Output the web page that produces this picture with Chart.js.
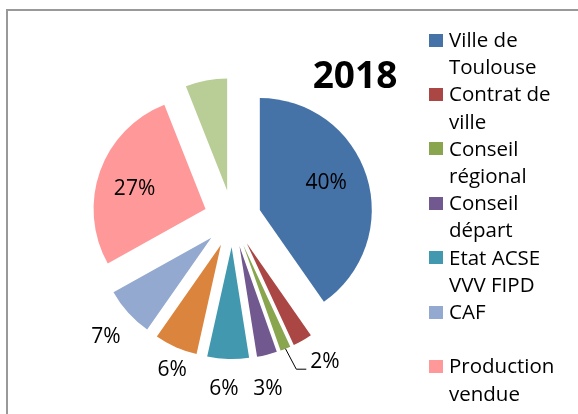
<!DOCTYPE html>
<html lang="fr">
<head>
<meta charset="utf-8">
<title>2018</title>
<script src="https://cdn.jsdelivr.net/npm/chart.js@4.4.1/dist/chart.umd.min.js"></script>
<style>
  html, body { margin: 0; padding: 0; background: #fff; width: 578px; height: 414px; overflow: hidden; }
  #cadre { position: absolute; left: 6px; top: 9px; width: 800px; height: 800px; border: 2px solid #999; }
  #graphe { position: absolute; left: 0; top: 0; }
  #titre { position: absolute; left: 255px; top: 55px; width: 200px; text-align: center;
           font: bold 37px "Open Sans"; line-height: 37px; color: #000; }
  #legende { position: absolute; left: 429px; top: 26px; width: 150px;
             font: 20.5px "Open Sans"; line-height: 27.2px; color: #000; }
  .entree { display: flex; align-items: flex-start; }
  .carre { width: 14px; height: 13px; margin-top: 7.5px; margin-right: 6px; flex: none; }
  .texte { width: 118px; }
  .vide { height: 27.2px; }
</style>
</head>
<body>
<div id="cadre"></div>
<canvas id="graphe" width="578" height="414"></canvas>
<div id="titre">2018</div>
<div id="legende"></div>
<script>
// ============================================================
// DONNÉES — répartition des financements 2018 (%)
// ============================================================
const categories = ['Ville de Toulouse', 'Contrat de ville', 'Conseil régional', 'Conseil départ',
                    'Etat ACSE VVV FIPD', '', 'CAF', 'Production vendue', ''];
const parts      = [40.3, 2.8, 1.5, 2.9, 6.0, 6.2, 7.2, 27.1, 6.0];
const etiquettes = ['40%', '', '2%', '3%', '6%', '6%', '7%', '27%', ''];
const couleurs   = ['#4572A7', '#AA4643', '#89A54E', '#71588F', '#4198AF',
                    '#DB843D', '#93A9CF', '#FF9999', '#B9CD96'];
// ordre d'affichage dans la légende (l'entrée vide tombe après CAF)
const ordreLegende = [0, 1, 2, 3, 4, 6, 5, 7, 8];

// ============================================================
// MISE EN PAGE
// ============================================================
const RAYON   = 112;
const ECLATE  = 114.4;  // Chart.js déplace chaque part de offset/4
const POLICE  = '21px "Open Sans"';
// placement des étiquettes : r = distance / rayon, tour = décalage angulaire (°)
const POS_ETIQ = [
  { r: 0.645, tour: -5.9 },
  null,
  { r: 1.261, tour: -13.2, guide: true },
  { r: 1.284, tour: 2.8 },
  { r: 1.253, tour: 1.3 },
  { r: 1.186, tour: -2.2 },
  { r: 1.281, tour: -0.7 },
  { r: 0.663, tour: -2.6 },
  null,
];

// ============================================================
// LÉGENDE HTML
// ============================================================
function construireLegende() {
  const leg = document.getElementById('legende');
  ordreLegende.forEach(i => {
    const div = document.createElement('div');
    if (!categories[i]) {
      div.className = 'vide';
    } else {
      div.className = 'entree';
      div.innerHTML = `<span class="carre" style="background:${couleurs[i]}"></span>` +
                      `<span class="texte">${categories[i]}</span>`;
    }
    leg.appendChild(div);
  });
}

// ============================================================
// PLUGINS
// Chart.js grossit et rétrécit les parts éclatées ; on compense
// pour garder un rayon et des angles identiques à l'original.
// ============================================================
const partsEclatees = {
  id: 'partsEclatees',
  beforeDatasetsDraw(chart) {
    const meta = chart.getDatasetMeta(0);
    const R = meta.controller.outerRadius;
    let debut = -Math.PI / 2;
    meta.data.forEach(arc => {
      const circ = arc.circumference;
      const fix = 1 - Math.sin(Math.min(Math.PI, circ));
      const decR = (arc.options.offset / 4) * fix;
      const s = decR / Math.PI / R;
      arc.outerRadius = R - decR;
      arc.startAngle = debut - s / 2;
      arc.endAngle = debut + circ + s / 2;
      debut += circ;
    });
  }
};

const etiquettesParts = {
  id: 'etiquettesParts',
  afterDatasetsDraw(chart) {
    const ctx  = chart.ctx;
    const meta = chart.getDatasetMeta(0);
    const R    = meta.controller.outerRadius;
    ctx.save();
    ctx.font = POLICE;
    ctx.fillStyle = '#000';
    ctx.strokeStyle = '#000';
    ctx.lineWidth = 1;
    ctx.textAlign = 'center';
    ctx.textBaseline = 'alphabetic';
    meta.data.forEach((arc, i) => {
      const pos = POS_ETIQ[i];
      if (!pos || !etiquettes[i]) return;
      const mid = (arc.startAngle + arc.endAngle) / 2;
      const dec = arc.options.offset / 4;
      const ax = arc.x + Math.cos(mid) * dec;
      const ay = arc.y + Math.sin(mid) * dec;
      const a = mid + pos.tour * Math.PI / 180;
      const x = ax + Math.cos(a) * R * pos.r;
      const y = ay + Math.sin(a) * R * pos.r;
      ctx.fillText(etiquettes[i], x, y + 7.5);
      if (pos.guide) {
        const w = ctx.measureText(etiquettes[i]).width;
        ctx.beginPath();
        ctx.moveTo(ax + Math.cos(mid) * R, ay + Math.sin(mid) * R);
        ctx.lineTo(x - w / 2 - 14, y + 9);
        ctx.lineTo(x - w / 2 - 4, y + 9);
        ctx.stroke();
      }
    });
    ctx.restore();
  }
};

// ============================================================
// GRAPHIQUE
// ============================================================
construireLegende();

new Chart(document.getElementById('graphe'), {
  type: 'pie',
  data: {
    labels: categories,
    datasets: [{
      data: parts,
      backgroundColor: couleurs,
      borderWidth: 0,
      offset: ECLATE,
      hoverOffset: 0,
      radius: RAYON,
    }]
  },
  options: {
    responsive: false,
    animation: false,
    events: [],
    layout: { padding: { top: 23, right: 113, bottom: 0, left: 0 } },
    plugins: {
      legend: { display: false },
      title: { display: false },
      tooltip: { enabled: false }
    }
  },
  plugins: [partsEclatees, etiquettesParts]
});
</script>
</body>
</html>
